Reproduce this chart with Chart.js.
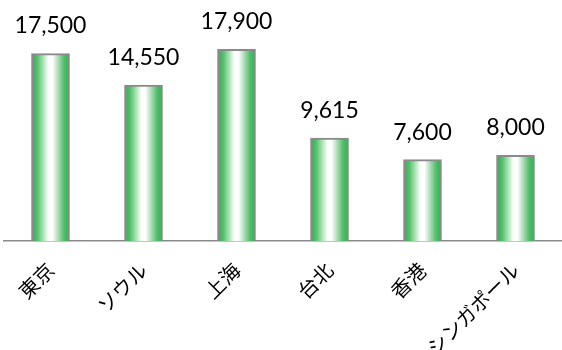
<!DOCTYPE html>
<html>
<head>
<meta charset="utf-8">
<script src="https://cdn.jsdelivr.net/npm/chart.js@4.4.1/dist/chart.umd.min.js"></script>
<style>
  html, body { margin: 0; padding: 0; background: #fff; }
  #wrap { width: 562px; height: 350px; }
</style>
</head>
<body>
<div id="wrap"><canvas id="cityChart" width="562" height="350"></canvas></div>
<script>
// cities and their values
const cities = ['東京', 'ソウル', '上海', '台北', '香港', 'シンガポール'];
const values = [17500, 14550, 17900, 9615, 7600, 8000];

const BAR_WIDTH = 38;

// value labels drawn above every bar
const valueLabels = {
    id: 'valueLabels',
    afterDatasetsDraw(chart) {
        const ctx = chart.ctx;
        const meta = chart.getDatasetMeta(0);
        ctx.save();
        ctx.font = '23px Lato, "Liberation Sans", sans-serif';
        ctx.fillStyle = '#000';
        ctx.textAlign = 'center';
        ctx.textBaseline = 'bottom';
        meta.data.forEach((bar, i) => {
            ctx.fillText(values[i].toLocaleString('en-US'), bar.x, bar.y - 16);
        });
        ctx.restore();
    }
};

// green - white - green fill across each bar
function barFill(context) {
    const chart = context.chart;
    const xScale = chart.scales.x;
    if (!chart.chartArea || !xScale || context.dataIndex === undefined) return '#3bb55a';
    const cx = xScale.getPixelForValue(context.dataIndex);
    if (!isFinite(cx)) return '#3bb55a';
    const half = BAR_WIDTH / 2;
    const g = chart.ctx.createLinearGradient(cx - half, 0, cx + half, 0);
    g.addColorStop(0, '#2cae4e');
    g.addColorStop(0.15, '#55bf6c');
    g.addColorStop(0.45, '#ffffff');
    g.addColorStop(0.55, '#ffffff');
    g.addColorStop(0.85, '#55bf6c');
    g.addColorStop(1, '#2cae4e');
    return g;
}

const ctx = document.getElementById('cityChart').getContext('2d');
const cityChart = new Chart(ctx, {
    type: 'bar',
    data: {
        labels: cities,
        datasets: [{
            data: values,
            backgroundColor: barFill,
            borderColor: '#8a8a8a',
            borderWidth: 2,
            borderSkipped: 'bottom',
            barThickness: BAR_WIDTH
        }]
    },
    options: {
        responsive: false,
        animation: false,
        layout: { padding: { left: 4, right: 0, top: 0, bottom: 0 } },
        plugins: {
            legend: { display: false },
            tooltip: { enabled: false }
        },
        scales: {
            x: {
                grid: { display: false },
                border: { display: true, color: '#8a8a8a', width: 1.5 },
                ticks: {
                    color: '#000',
                    font: { family: '"Noto Sans CJK JP", sans-serif', size: 20 },
                    minRotation: 45,
                    maxRotation: 45,
                    padding: 9
                },
                afterFit(scale) { scale.height = 109; }
            },
            y: {
                display: false,
                min: 0,
                max: 22500
            }
        }
    },
    plugins: [valueLabels]
});
</script>
</body>
</html>
